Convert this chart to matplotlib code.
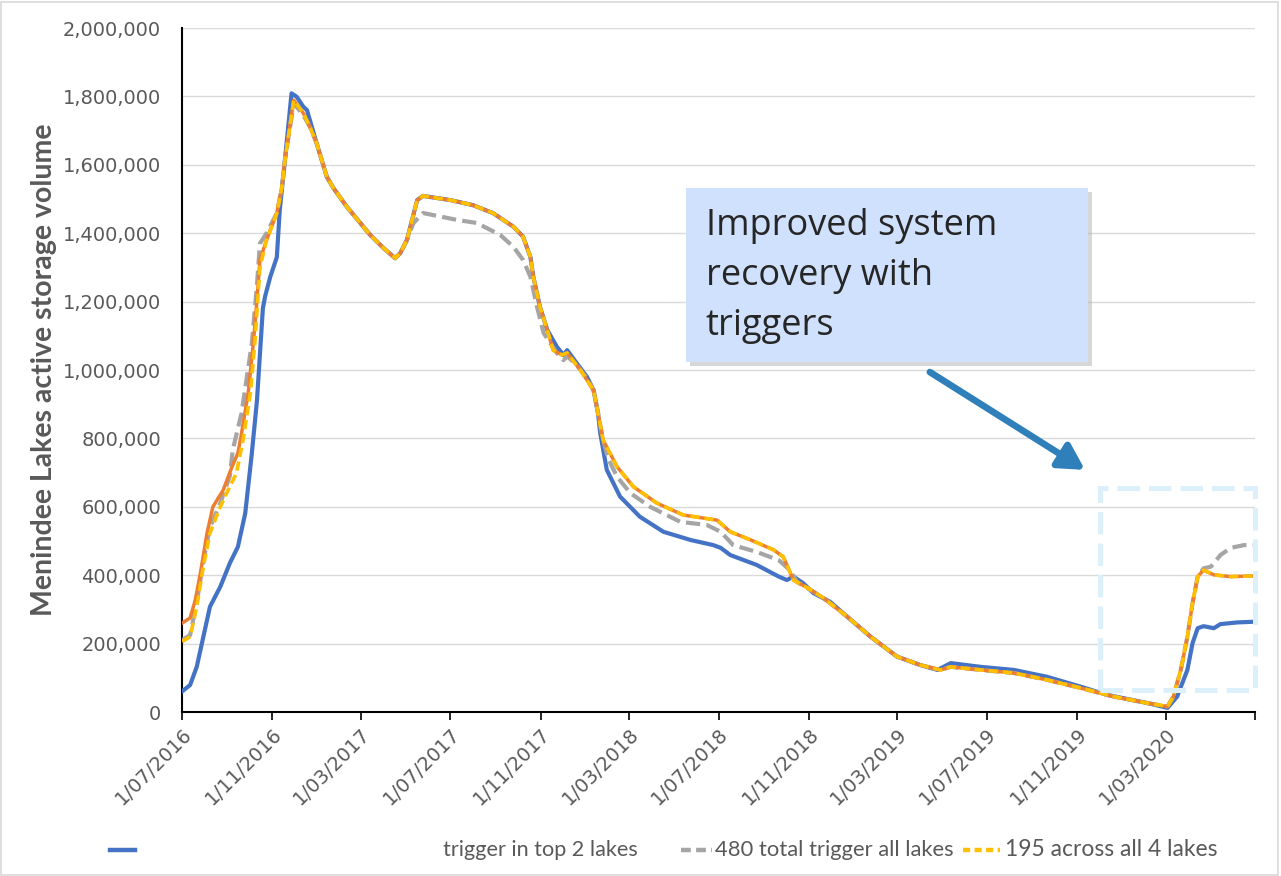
import numpy as np
import matplotlib
matplotlib.use('Agg')
import matplotlib.pyplot as plt
import matplotlib.dates as mdates
from matplotlib.lines import Line2D
from matplotlib.patches import Rectangle
from matplotlib.ticker import FuncFormatter, FixedLocator

# Start date of the simulation; all series are given as (days since start, storage in ML)
start = np.datetime64('2016-07-01')
end = np.datetime64('2020-06-30')

blue_days = [0, 11, 20, 29, 38, 52, 65, 76, 86, 95, 102, 110, 113, 120, 129, 133, 140, 149, 156, 165, 170,
             183, 197, 206, 224, 256, 274, 290, 297, 306, 313, 320, 328, 365, 396, 423, 451, 464, 474, 478,
             487, 497, 510, 519, 524, 537, 551, 560, 566, 569, 578, 596, 623, 655, 692, 723, 733, 746, 782,
             812, 823, 832, 845, 859, 882, 905, 937, 973, 1005, 1028, 1046, 1087, 1132, 1177, 1223, 1259,
             1314, 1341, 1354, 1368, 1375, 1382, 1390, 1404, 1413, 1436, 1460]
blue_vals = [60, 79, 132, 220, 308, 366, 435, 483, 581, 757, 912, 1180, 1215, 1272, 1330, 1468, 1614, 1809,
             1799, 1770, 1760, 1664, 1565, 1532, 1478, 1395, 1357, 1327, 1342, 1380, 1439, 1497, 1509, 1497,
             1482, 1459, 1419, 1390, 1331, 1273, 1185, 1117, 1068, 1044, 1058, 1020, 980, 941, 874, 816, 708,
             630, 571, 527, 503, 488, 480, 459, 430, 396, 386, 396, 377, 348, 322, 279, 220, 162, 137, 123,
             143, 132, 123, 103, 74, 50, 26, 12, 45, 123, 201, 245, 251, 245, 257, 262, 264]

orange_days = [0, 11, 18, 25, 34, 42, 56, 68, 76, 81, 90, 97, 102, 106, 115, 129, 136, 140, 152, 165, 174,
               183, 197, 206, 224, 256, 274, 290, 297, 306, 313, 320, 328, 365, 396, 423, 451, 464, 474, 478,
               487, 497, 505, 517, 524, 542, 560, 566, 573, 592, 614, 646, 682, 728, 746, 774, 805, 818, 832,
               851, 873, 905, 937, 973, 1005, 1032, 1046, 1087, 1132, 1177, 1223, 1268, 1314, 1341, 1349,
               1359, 1368, 1375, 1382, 1390, 1404, 1427, 1460]
orange_vals = [260, 275, 327, 406, 523, 600, 649, 717, 757, 815, 932, 1078, 1205, 1322, 1380, 1459, 1536,
               1614, 1789, 1751, 1711, 1664, 1565, 1532, 1478, 1395, 1357, 1327, 1342, 1380, 1439, 1497, 1509,
               1497, 1482, 1459, 1419, 1390, 1331, 1273, 1185, 1117, 1058, 1044, 1050, 1000, 941, 874, 795, 717,
               659, 611, 576, 561, 527, 503, 474, 454, 386, 363, 333, 279, 220, 162, 137, 123, 132, 123, 114,
               94, 70, 45, 26, 16, 45, 123, 220, 318, 396, 415, 401, 396, 398]

gray_days = [0, 11, 20, 29, 38, 52, 65, 69, 81, 95, 102, 106, 115, 129, 136, 140, 152, 165, 174, 183, 197,
             206, 224, 256, 274, 290, 297, 306, 315, 328, 342, 374, 401, 433, 451, 464, 474, 483, 492, 510,
             519, 524, 537, 551, 560, 566, 573, 580, 592, 610, 637, 678, 714, 733, 750, 782, 812, 827, 837,
             851, 873, 905, 937, 973, 1005, 1032, 1046, 1087, 1132, 1177, 1223, 1268, 1314, 1341, 1349, 1359,
             1368, 1375, 1382, 1390, 1400, 1413, 1427, 1445, 1460]
gray_vals = [210, 225, 320, 440, 540, 610, 690, 766, 874, 1078, 1250, 1370, 1400, 1459, 1536, 1614, 1780,
             1745, 1711, 1664, 1565, 1532, 1478, 1395, 1357, 1327, 1342, 1380, 1430, 1459, 1453, 1439, 1430,
             1395, 1360, 1322, 1273, 1185, 1108, 1050, 1029, 1040, 1015, 975, 941, 874, 795, 740, 688, 640,
             600, 556, 547, 527, 488, 468, 444, 415, 380, 363, 333, 279, 220, 162, 137, 123, 132, 123, 114,
             94, 70, 45, 26, 16, 45, 123, 220, 318, 396, 420, 425, 459, 480, 488, 488]

yellow_days = [0, 11, 20, 29, 38, 52, 65, 74, 83, 93, 99, 103, 106, 115, 129, 136, 140, 152, 165, 174,
               183, 197, 206, 224, 256, 274, 290, 297, 306, 313, 320, 328, 365, 396, 423, 451, 464, 474, 478,
               487, 497, 505, 517, 524, 542, 560, 566, 573, 592, 614, 646, 682, 728, 746, 774, 805, 818, 832,
               851, 873, 905, 937, 973, 1005, 1032, 1046, 1087, 1132, 1177, 1223, 1268, 1314, 1341, 1349,
               1359, 1368, 1375, 1382, 1390, 1404, 1427, 1460]
yellow_vals = [206, 220, 308, 425, 523, 600, 659, 698, 795, 932, 1078, 1205, 1300, 1380, 1459, 1536, 1614,
               1789, 1751, 1711, 1664, 1565, 1532, 1478, 1395, 1357, 1327, 1342, 1380, 1439, 1497, 1509, 1497,
               1482, 1459, 1419, 1390, 1331, 1273, 1185, 1117, 1058, 1044, 1050, 1000, 941, 874, 795, 717, 659,
               611, 576, 561, 527, 503, 474, 454, 386, 363, 333, 279, 220, 162, 137, 123, 132, 123, 114, 94,
               70, 45, 26, 16, 45, 123, 220, 318, 396, 415, 401, 396, 398]

legend_labels = ['', 'trigger in top 2 lakes', '480 total trigger all lakes', '195 across all 4 lakes']
note_text = 'Improved system\nrecovery with\ntriggers'
ylabel = 'Menindee Lakes active storage volume'


def to_dates(days):
    return start + np.array(days).astype('timedelta64[D]')


def to_ml(vals):
    return np.array(vals) * 1000.0


txt_gray = '#595959'
fig = plt.figure(figsize=(12.81, 8.76), dpi=100)
ax = fig.add_axes([0.1421, 0.1872, 0.8376, 0.7808])

ax.plot(to_dates(blue_days), to_ml(blue_vals), color='#4472C4', lw=3.0, zorder=3,
        solid_joinstyle='round', solid_capstyle='round')
ax.plot(to_dates(gray_days), to_ml(gray_vals), color='#A5A5A5', lw=3.0, dashes=(3.4, 1.5), zorder=4)
ax.plot(to_dates(orange_days), to_ml(orange_vals), color='#ED7D31', lw=2.5, zorder=5, solid_joinstyle='round')
ax.plot(to_dates(yellow_days), to_ml(yellow_vals), color='#FFC000', lw=2.6, dashes=(2.6, 1.3), zorder=6)

ax.set_xlim(start, end)
ax.set_ylim(0, 2000000)
ax.yaxis.set_major_locator(FixedLocator(np.arange(0, 2000001, 200000)))
ax.yaxis.set_major_formatter(FuncFormatter(lambda v, p: f'{v:,.0f}'))
ax.xaxis.set_major_locator(mdates.MonthLocator(bymonth=[3, 7, 11], bymonthday=1))
ax.xaxis.set_major_formatter(FuncFormatter(
    lambda v, p: f'{mdates.num2date(v).day}/{mdates.num2date(v).month:02d}/{mdates.num2date(v).year}'))
ax.xaxis.set_minor_locator(FixedLocator([mdates.date2num(end)]))

ax.grid(axis='y', color='#d9d9d9', lw=1.0, zorder=0)
ax.set_axisbelow(True)
for s in ['top', 'right']:
    ax.spines[s].set_visible(False)
for s in ['left', 'bottom']:
    ax.spines[s].set_color('black')
    ax.spines[s].set_linewidth(1.5)
ax.tick_params(axis='y', length=0, pad=15, labelsize=14, labelcolor=txt_gray)
ax.tick_params(axis='x', which='both', length=6, width=1.2, color='black', pad=3,
               labelsize=14, labelcolor=txt_gray)
for lab in ax.get_xticklabels():
    lab.set_rotation(45)
    lab.set_ha('right')
    lab.set_rotation_mode('anchor')

ax.set_ylabel(ylabel, fontsize=20.5, fontweight='bold', color=txt_gray, family='Lato', labelpad=4)

# highlighted recovery region
ax.add_patch(Rectangle((0.8556, 0.032), 0.1444, 0.2955, transform=ax.transAxes, fill=False,
                       edgecolor='#dcf0fb', lw=3.6, linestyle=(0, (4.5, 1.8)), zorder=7, clip_on=False))

# annotation box with shadow
ax.add_patch(Rectangle((0.4730, 0.5062), 0.3747, 0.2543, transform=ax.transAxes,
                       facecolor='#a8a8a8', edgecolor='none', alpha=0.45, zorder=8))
ax.add_patch(Rectangle((0.4697, 0.5117), 0.3747, 0.2543, transform=ax.transAxes,
                       facecolor='#cfe1fc', edgecolor='none', zorder=9))
ax.text(0.488, 0.637, note_text, transform=ax.transAxes, fontsize=26, family='Open Sans',
        color='#262626', va='center', ha='left', linespacing=1.52, zorder=10)
ax.annotate('', xy=(0.8416, 0.354), xytext=(0.697, 0.497), xycoords='axes fraction',
            arrowprops=dict(arrowstyle='-|>,head_length=0.9,head_width=0.5', color='#2e7fba',
                            lw=4.8, mutation_scale=17, shrinkA=0, shrinkB=0), zorder=10)

# legend drawn along the bottom
ly = 0.0297
fig.add_artist(Line2D([0.0859, 0.1054], [ly, ly], color='#4472C4', lw=3.2, transform=fig.transFigure))
fig.text(0.3458, ly, legend_labels[1], fontsize=15.6, family='Lato', color=txt_gray, va='center')
fig.add_artist(Line2D([0.532, 0.556], [ly, ly], color='#A5A5A5', lw=3.2, dashes=(2.2, 1.2),
                      transform=fig.transFigure))
fig.text(0.5585, ly, legend_labels[2], fontsize=15.8, family='Lato', color=txt_gray, va='center')
fig.add_artist(Line2D([0.752, 0.781], [ly, ly], color='#FFC000', lw=3.2, dashes=(1.6, 1.0),
                      transform=fig.transFigure))
fig.text(0.7845, ly, legend_labels[3], fontsize=16.5, family='Lato', color=txt_gray, va='center')

# chart border
fig.add_artist(Rectangle((0.001, 0.001), 0.997, 0.997, transform=fig.transFigure, fill=False,
                         edgecolor='#d9d9d9', lw=1.2))

fig.savefig('out.png', dpi=100)
